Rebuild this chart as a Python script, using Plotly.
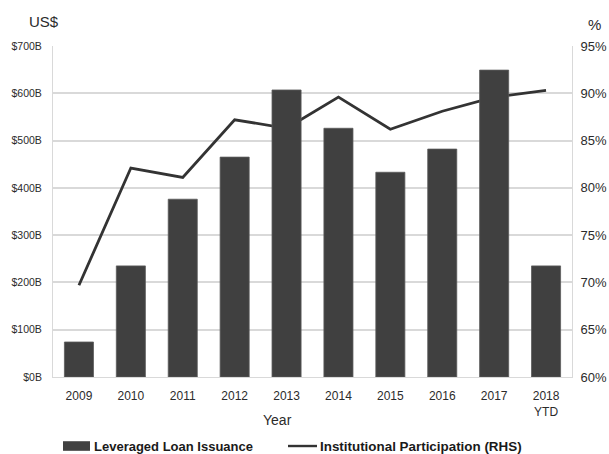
import plotly.graph_objects as go

# Leveraged loan issuance (US$ billions) and institutional participation (%)
years = ["2009", "2010", "2011", "2012", "2013", "2014", "2015", "2016", "2017", "2018<br>YTD"]
issuance = [74, 235, 376, 465, 607, 526, 433, 482, 649, 235]
participation = [69.7, 82.1, 81.1, 87.2, 86.3, 89.6, 86.2, 88.1, 89.6, 90.3]

left_ticks = [0, 100, 200, 300, 400, 500, 600, 700]
right_ticks = [60, 65, 70, 75, 80, 85, 90, 95]

FONT = "Liberation Sans, Arial, sans-serif"
TXT = "#2b2b2b"
GRID = "#d9d9d9"
BAR = "#404040"
LINE = "#333333"

fig = go.Figure()

# line on the base axis so the bars sit on top of it
fig.add_trace(go.Scatter(
    x=years, y=participation, name="Institutional Participation (RHS)",
    mode="lines", line=dict(color=LINE, width=2.8), yaxis="y",
))
fig.add_trace(go.Bar(
    x=years, y=issuance, name="Leveraged Loan Issuance",
    marker=dict(color=BAR, line=dict(color="#5a5a5a", width=0.8)),
    yaxis="y2",
))

# legend drawn by hand: wide swatches next to bold labels
LEG_Y = -0.2085
legend_shapes = [
    dict(type="rect", xref="paper", yref="paper", x0=0.0193, x1=0.0713,
         y0=LEG_Y - 0.0145, y1=LEG_Y + 0.0145, fillcolor=BAR, line=dict(width=0)),
    dict(type="line", xref="paper", yref="paper", x0=0.4528, x1=0.5087,
         y0=LEG_Y, y1=LEG_Y, line=dict(color=LINE, width=2.4)),
]

fig.update_layout(
    width=609, height=454,
    margin=dict(l=53, r=37, t=46, b=77, autoexpand=False),
    paper_bgcolor="white", plot_bgcolor="white",
    font=dict(family=FONT, color=TXT, size=12),
    bargap=0.44,
    showlegend=False,
    shapes=legend_shapes,
    xaxis=dict(
        type="category", showgrid=False, showline=True, linecolor=GRID, linewidth=1,
        ticks="", tickfont=dict(size=12, color=TXT), ticklabelstandoff=8,
    ),
    yaxis=dict(
        side="right", range=[60, 95], tickvals=right_ticks,
        ticktext=[f"{v}%" for v in right_ticks],
        showgrid=True, gridcolor=GRID, gridwidth=1.5,
        showline=True, linecolor=GRID, linewidth=1, zeroline=False,
        tickfont=dict(size=13, color=TXT), ticks="", ticklabelstandoff=5,
    ),
    yaxis2=dict(
        side="left", overlaying="y", range=[0, 700], tickvals=left_ticks,
        ticktext=[f"${v}B" for v in left_ticks],
        showgrid=False, showline=True, linecolor=GRID, linewidth=1, zeroline=False,
        tickfont=dict(size=10.5, color=TXT), ticks="", ticklabelstandoff=8,
    ),
    annotations=[
        dict(text="US$", xref="paper", yref="paper", x=-0.05, y=1.075,
             xanchor="left", yanchor="middle", showarrow=False,
             font=dict(size=15, color=TXT)),
        dict(text="%", xref="paper", yref="paper", x=1.0425, y=1.065,
             xanchor="center", yanchor="middle", showarrow=False,
             font=dict(size=15, color=TXT)),
        dict(text="Year", xref="paper", yref="paper", x=0.4316, y=-0.13,
             xanchor="center", yanchor="middle", showarrow=False,
             font=dict(size=14, color=TXT)),
        dict(text="<b>Leveraged Loan Issuance</b>", xref="paper", yref="paper",
             x=0.075, y=LEG_Y, xanchor="left", yanchor="middle", showarrow=False,
             font=dict(size=13, color="#1a1a1a")),
        dict(text="<b>Institutional Participation (RHS)</b>", xref="paper", yref="paper",
             x=0.5106, y=LEG_Y, xanchor="left", yanchor="middle", showarrow=False,
             font=dict(size=13.4, color="#1a1a1a")),
    ],
)

fig.write_html("out.html")
